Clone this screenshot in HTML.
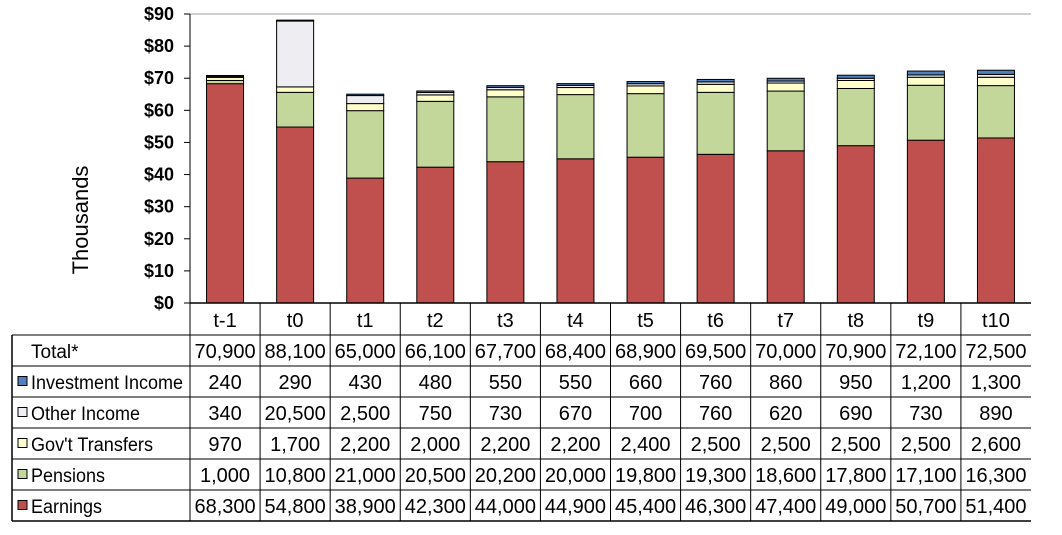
<!DOCTYPE html>
<html><head><meta charset="utf-8"><style>
body{margin:0;background:#fff;}
svg{display:block;font-family:"Liberation Sans",Arial,sans-serif;}
</style></head><body>
<svg id="c" width="1062" height="535" viewBox="0 0 1062 535"></svg>
<script>
const categories=["t-1","t0","t1","t2","t3","t4","t5","t6","t7","t8","t9","t10"];
const totals=[70900,88100,65000,66100,67700,68400,68900,69500,70000,70900,72100,72500];
const earnings=[68300,54800,38900,42300,44000,44900,45400,46300,47400,49000,50700,51400];
const pensions=[1000,10800,21000,20500,20200,20000,19800,19300,18600,17800,17100,16300];
const govTransfers=[970,1700,2200,2000,2200,2200,2400,2500,2500,2500,2500,2600];
const otherIncome=[340,20500,2500,750,730,670,700,760,620,690,730,890];
const investmentIncome=[240,290,430,480,550,550,660,760,860,950,1200,1300];
const yTicks=[0,10,20,30,40,50,60,70,80,90];

const svg=document.getElementById('c');
const NS="http://www.w3.org/2000/svg";
function mk(t,a,p){const e=document.createElementNS(NS,t);for(const k in a)e.setAttribute(k,a[k]);(p||svg).appendChild(e);return e;}
const X0=190,X1=1031,Y0=303,Y90=14;
const colW=(X1-X0)/categories.length;
const y=v=>Y0-(v/1000)/90*(Y0-Y90);
const xc=i=>X0+colW*(i+0.5);

let g=mk('line',{x1:X0,x2:X1,y1:Y90,y2:Y90,stroke:'#a0a0a0','stroke-width':1});

let ax=mk('line',{x1:X0,x2:X0,y1:Y90,y2:Y0,stroke:'#000','stroke-width':1});

yTicks.forEach(t=>{
  const yy=Y0-t/90*(Y0-Y90);
  const l=mk('line',{x1:X0-6,x2:X0,y1:yy,y2:yy,stroke:'#000'});
  
  const tx=mk('text',{x:X0-16,y:yy+6,'text-anchor':'end','font-size':18,'font-weight':'bold'});
  tx.textContent='$'+t;
  
});
const yt=mk('text',{x:0,y:0,transform:'translate(88,220) rotate(-90)','text-anchor':'middle','font-size':22});
yt.textContent='Thousands';


const series=[
 {name:'earnings',vals:earnings,fill:'#c0504d'},
 {name:'pensions',vals:pensions,fill:'#c4d79b'},
 {name:'govt-transfers',vals:govTransfers,fill:'#ffffcc'},
 {name:'other-income',vals:otherIncome,fill:'#eeeef2'},
 {name:'investment-income',vals:investmentIncome,fill:'#4f81bd'}];
const bw=37;
categories.forEach((c,i)=>{
  let acc=0;
  series.forEach(s=>{
    const v=s.vals[i];
    const r=mk('rect',{x:xc(i)-bw/2,y:y(acc+v),width:bw,height:y(acc)-y(acc+v),fill:s.fill,stroke:'#000','stroke-width':1});
    
    
    acc+=v;
  });
});

const TL=12;
const rowY=[303,335,366,397,428,459,490,521];
const rows=[
 {label:'Total*',vals:totals,sw:null,len:0},
 {label:'Investment Income',vals:investmentIncome,sw:'#4f81bd',len:152},
 {label:'Other Income',vals:otherIncome,sw:'#eeeef2',len:109},
 {label:"Gov't Transfers",vals:govTransfers,sw:'#ffffcc',len:122},
 {label:'Pensions',vals:pensions,sw:'#c4d79b',len:74},
 {label:'Earnings',vals:earnings,sw:'#c0504d',len:71}];
const fmt=v=>v.toLocaleString('en-US');
categories.forEach((c,i)=>{
  const t=mk('text',{x:xc(i),y:rowY[0]+24,'text-anchor':'middle','font-size':20});
  t.textContent=c;
  
});
rows.forEach((r,ri)=>{
  const top=rowY[ri+1],bot=rowY[ri+2];
  if(r.sw){
    const s=mk('rect',{x:18,y:(top+bot)/2-5,width:9,height:9,fill:r.sw,stroke:'#000','stroke-width':1});
    
  }
  const a={x:r.sw?31:31,y:top+23,'font-size':19};
  if(r.len){a.textLength=r.len;a.lengthAdjust='spacingAndGlyphs';}
  const lt=mk('text',a);
  lt.textContent=r.label;
  
  r.vals.forEach((v,i)=>{
    const t=mk('text',{x:xc(i),y:top+23,'text-anchor':'middle','font-size':20});
    t.textContent=fmt(v);
    
  });
});
for(let k=1;k<rowY.length;k++){
  const l=mk('line',{x1:TL,x2:X1,y1:rowY[k],y2:rowY[k],stroke:k==rowY.length-1?'#000':'#555','stroke-width':1.5});
  
}
const hl=mk('line',{x1:X0,x2:X1,y1:Y0,y2:Y0,stroke:'#000','stroke-width':1.5});

const lb=mk('line',{x1:TL,x2:TL,y1:rowY[1],y2:rowY[7],stroke:'#000','stroke-width':1.5});

for(let i=0;i<categories.length;i++){
  const xx=X0+colW*i;
  const l=mk('line',{x1:xx,x2:xx,y1:Y0,y2:rowY[7],stroke:'#000','stroke-width':1});
  
}
</script>
</body></html>
